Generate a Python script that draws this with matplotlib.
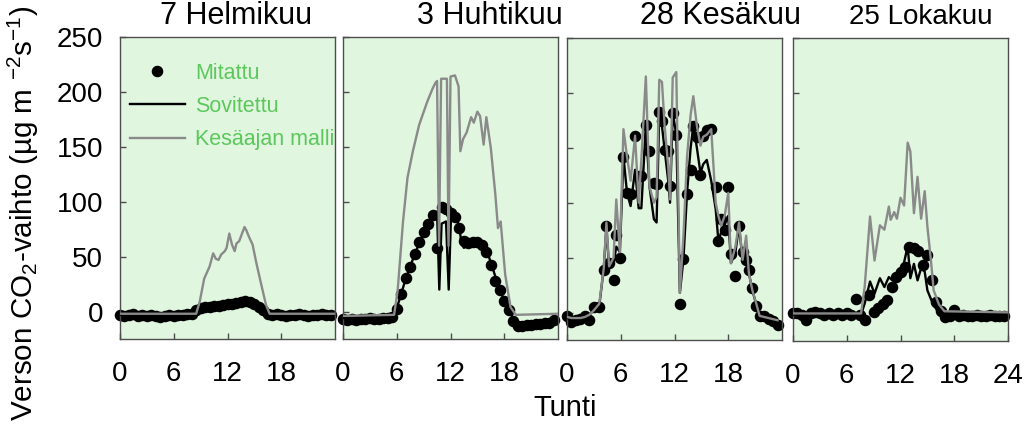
import numpy as np
import matplotlib
matplotlib.use("Agg")
import matplotlib.pyplot as plt
from matplotlib.lines import Line2D

# ---------------- data ----------------
titles = ["7 Helmikuu", "3 Huhtikuu", "28 Kesäkuu", "25 Lokakuu"]
legend_labels = ["Mitattu", "Sovitettu", "Kesäajan malli"]
x_ticks = [0, 6, 12, 18]
x_ticks_last = [0, 6, 12, 18, 24]
y_ticks = [0, 50, 100, 150, 200, 250]
x_label = "Tunti"
y_label = "Verson CO$_2$-vaihto (µg m $^{-2}$s$^{-1}$)"

half_hours = np.arange(0, 24, 0.5)

# 7 Helmikuu
feb_meas_h = half_hours
feb_meas = [-3, -4, -3, -2, -4, -3, -4, -3, -4, -5, -4, -3, -4, -3, -3, -2,
            -2, 1, 3, 4, 4, 5, 5, 6, 7, 7, 8, 9, 10, 9, 7, 4,
            1, -2, -3, -2, -3, -4, -3, -3, -2, -3, -4, -3, -3, -2, -3, -3]
feb_fit_h = [0, 8.0, 8.5, 9, 10, 11, 12, 13, 14, 14.5, 15, 15.5, 16, 16.5, 17, 24]
feb_fit = [-3, -3, 0, 2, 4, 5, 7, 8, 9, 9, 6, 3, 0, -2, -3, -3]
feb_summer_h = [0, 8.5, 8.9, 9.4, 10.0, 10.4, 10.7, 11.0, 11.3, 11.7, 11.9, 12.2, 12.5,
                12.8, 13.0, 13.3, 13.9, 14.1, 14.4, 14.8, 15.2, 15.7, 16.3, 16.7, 24]
feb_summer = [-2, -2, 9, 30, 41, 53, 48, 47, 52, 55, 58, 71, 61,
              55, 62, 64, 77, 74, 68, 61, 45, 27, 6, -2, -2]

# 3 Huhtikuu
apr_meas_h = half_hours
apr_meas = [-7, -8, -7, -8, -7, -7, -6, -7, -7, -6, -6, -5,
            2, 16, 31, 41, 52, 63, 72, 80, 88, 58, 95, 93,
            90, 86, 76, 64, 62, 63, 63, 61, 54, 42, 28, 20,
            10, 1, -9, -13, -13, -12, -12, -11, -11, -10, -10, -8]
apr_fit_h = [0, 5.7, 6.0, 6.5, 7.0, 7.5, 8.0, 8.5, 9.0, 9.5, 10.0, 10.5, 10.75, 11.0,
             11.5, 11.8, 12.05, 12.5, 13.0, 13.2, 13.5, 14.0, 15.0, 15.5, 16.0, 16.5,
             17.0, 17.5, 18.0, 18.5, 19.0, 19.5, 24]
apr_fit = [-6, -5, 3, 16, 30, 41, 52, 62, 71, 80, 87, 91, 20, 80,
           82, 20, 85, 86, 78, 62, 58, 62, 63, 62, 56, 45,
           32, 20, 10, 2, -6, -10, -9]
apr_summer_h = [0, 5.7, 6.1, 6.7, 7.2, 7.8, 8.5, 9.4, 10.0, 10.3, 10.5, 10.72, 10.95,
                11.4, 11.6, 11.78, 12.0, 12.5, 12.9, 13.1, 13.4, 13.8, 14.3, 14.6,
                15.0, 15.3, 15.7, 16.0, 16.5, 17.0, 17.3, 17.6, 18.1, 18.7, 19.3, 24]
apr_summer = [-4, -3, 19, 82, 122, 146, 170, 191, 203, 208, 210, 60, 212,
              212, 212, 60, 214, 215, 205, 146, 157, 163, 177, 172,
              182, 178, 152, 177, 149, 107, 76, 82, 34, 4, -3, -2]

# 28 Kesäkuu
jun_h = [0.0, 0.5, 1.0, 1.5, 2.0, 2.5, 3.0, 3.6, 4.1, 4.4, 4.7, 5.2, 5.5, 5.9, 6.3,
         6.7, 7.1, 7.6, 8.0, 8.3, 8.8, 9.2, 9.7, 10.0, 10.3, 10.6, 10.9, 11.3, 11.5,
         11.8, 12.2, 12.6, 13.0, 13.4, 13.8, 14.1, 14.5, 14.9, 15.2, 15.6, 16.1, 16.6,
         16.9, 17.2, 17.6, 18.0, 18.3, 18.8, 19.2, 19.6, 20.0, 20.3, 20.7, 21.1, 21.5,
         22.0, 22.5, 23.0, 23.5]
jun_meas = [-3, -9, -7, -6, -3, -7, 5, 5, 39, 79, 45, 30, 71, 50, 142,
            109, 108, 161, 124, 124, 171, 147, 118, 117, 183, 174, 148, 147, 115,
            182, 162, 8, 49, 108, 130, 170, 160, 125, 161, 166, 167, 114,
            65, 85, 75, 114, 53, 33, 79, 55, 48, 39, 22, 6, -3,
            -3, -6, -8, -11]
jun_fit = [-5, -6, -6, -5, -4, -2, 2, 6, 40, 78, 40, 45, 60, 55, 142,
           109, 97, 130, 95, 95, 171, 115, 85, 82, 182, 170, 148, 120, 100,
           182, 162, 18, 49, 109, 150, 170, 150, 127, 135, 139, 120, 94,
           65, 73, 80, 88, 45, 55, 79, 48, 61, 36, 20, 8, -3,
           -5, -6, -7, -8]
jun_summer = [-4, -5, -5, -5, -4, -2, 2, 8, 40, 82, 42, 50, 103, 55, 167,
              142, 120, 161, 100, 139, 215, 115, 100, 105, 212, 210, 170, 133, 103,
              214, 219, 18, 70, 142, 180, 197, 170, 152, 160, 162, 167, 100,
              88, 79, 88, 109, 45, 60, 82, 48, 70, 36, 20, 9, -3,
              -4, -5, -6, -7]

# 25 Lokakuu
oct_meas_h = half_hours
oct_meas = [0, 0, -1, -6, 0, 1, 0, -1, 0, -1, 0, -1,
            0, -1, 13, -1, -6, 17, 1, 5, 9, 12, 24, 33,
            38, 42, 60, 59, 57, 44, 53, 30, 10, 2, -3, -2,
            3, -2, -1, -2, -2, -1, -2, -2, -1, -2, -2, -2]
oct_fit_h = [0, 7.6, 8.0, 8.6, 9.1, 9.7, 10.2, 10.7, 11.1, 11.7, 12.2, 12.8, 13.1,
             13.5, 13.9, 14.3, 14.7, 15.0, 15.6, 16.3, 16.9, 24]
oct_fit = [-1, -1, 9, 29, 18, 32, 24, 33, 30, 39, 39, 61, 32,
           45, 30, 41, 38, 21, 9, 0, -3, -3]
oct_summer_h = [0, 7.6, 8.0, 8.6, 9.1, 9.7, 10.2, 10.7, 10.9, 11.3, 11.6, 12.0, 12.4,
                12.8, 13.1, 13.5, 13.9, 14.3, 14.7, 15.0, 15.4, 15.7, 16.3, 16.9, 24]
oct_summer = [0, 0, 24, 88, 48, 80, 76, 97, 85, 92, 86, 105, 98,
              155, 147, 91, 124, 86, 111, 79, 48, 21, 8, 2, 1]

panels = [
    (feb_meas_h, feb_meas, feb_fit_h, feb_fit, feb_summer_h, feb_summer),
    (apr_meas_h, apr_meas, apr_fit_h, apr_fit, apr_summer_h, apr_summer),
    (jun_h, jun_meas, jun_h, jun_fit, jun_h, jun_summer),
    (oct_meas_h, oct_meas, oct_fit_h, oct_fit, oct_summer_h, oct_summer),
]

# ---------------- style ----------------
plt.rcParams['font.family'] = ['Liberation Sans', 'DejaVu Sans']
plt.rcParams['mathtext.fontset'] = 'custom'
plt.rcParams['mathtext.rm'] = 'Liberation Sans'
plt.rcParams['mathtext.it'] = 'Liberation Sans:italic'
plt.rcParams['mathtext.default'] = 'regular'

bg = '#e0f6df'
spine_c = '#4d4d4d'
grey_c = '#8a8a8a'
legend_c = '#5cc85c'
ms = 7.3
lw = 1.7

W, H = 1024, 426
fig = plt.figure(figsize=(W / 100, H / 100), dpi=100)

boxes = [(120, 335, 37, 339), (343, 558, 37, 339), (567, 782, 38, 340), (793, 1008, 38, 341)]
title_x = [236, 490, 720, 921]
title_fs = [22, 22, 22, 20]

axes = []
for i, (l, r, t, b) in enumerate(boxes):
    ax = fig.add_axes([l / W, 1 - b / H, (r - l) / W, (b - t) / H])
    axes.append(ax)
    mh, mv, fh, fv, sh, sv = panels[i]
    ax.set_facecolor(bg)
    ax.plot(mh, mv, 'o', color='black', markersize=ms, zorder=2, clip_on=False)
    ax.plot(fh, fv, '-', color='black', lw=lw, zorder=3)
    ax.plot(sh, sv, '-', color=grey_c, lw=lw, zorder=4)
    ax.set_xlim(0, 24)
    ax.set_ylim(-25, 249)
    ax.set_xticks(x_ticks_last if i == 3 else x_ticks)
    ax.set_yticks(y_ticks)
    ax.tick_params(direction='in', length=4, width=1, color=spine_c,
                   labelsize=20, top=False, right=False)
    ax.tick_params(axis='x', pad=16)
    ax.tick_params(axis='y', pad=12)
    if i != 0:
        ax.set_yticklabels([])
    for s in ax.spines.values():
        s.set_color(spine_c)
        s.set_linewidth(1.0)
    fig.text(title_x[i] / W, 1 - 24 / H, titles[i], fontsize=title_fs[i],
             ha='center', va='baseline')

handles = [Line2D([], [], marker='o', ls='none', color='black', markersize=ms),
           Line2D([], [], color='black', lw=lw),
           Line2D([], [], color=grey_c, lw=lw)]
leg = axes[0].legend(handles, legend_labels, loc='upper left',
                     bbox_to_anchor=(0.045, 0.915), frameon=False, fontsize=15.5,
                     labelcolor=legend_c, handlelength=2.55, handletextpad=0.5,
                     labelspacing=0.57, borderaxespad=0, borderpad=0)

fig.text(565 / W, 1 - 408 / H, x_label, fontsize=21, ha='center', va='center')
fig.text(23 / W, 1 - 213 / H, y_label, fontsize=21.3, ha='center', va='center',
         rotation=90)

fig.savefig('out.png', dpi=100, facecolor='white')
